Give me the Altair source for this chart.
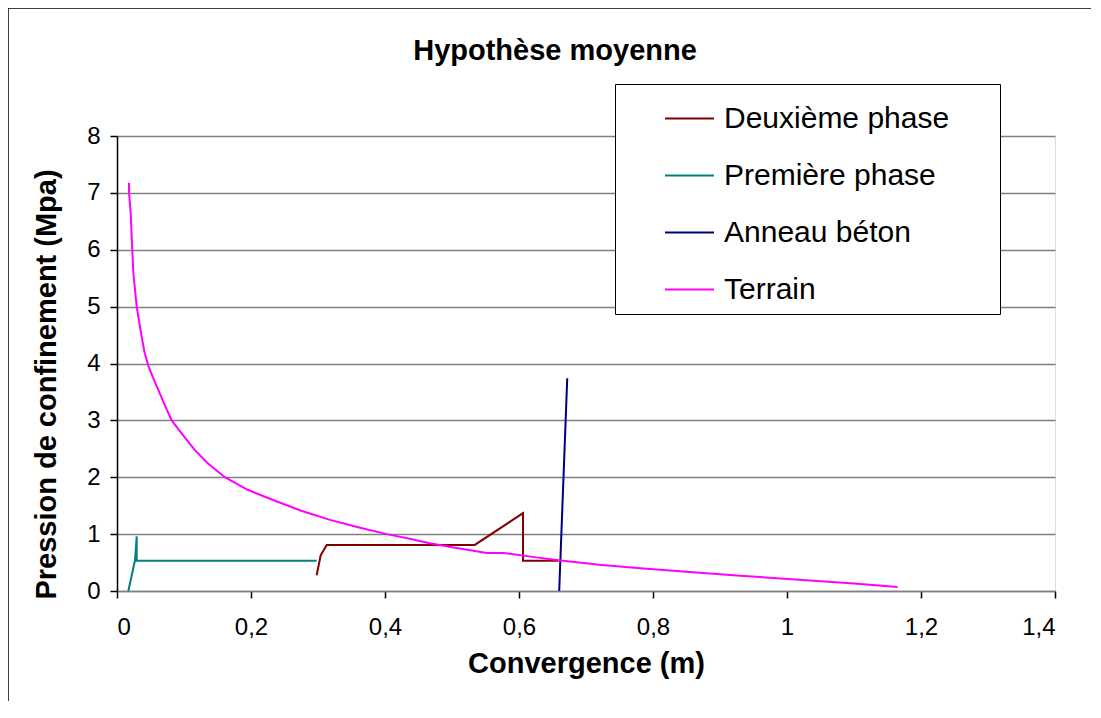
import altair as alt
import pandas as pd

# ---- data ----
series_names = ["Deuxième phase", "Première phase", "Anneau béton", "Terrain"]
series_colors = ["#800000", "#008080", "#000080", "#FF00FF"]

terrain_x = [0.0179, 0.018, 0.0204, 0.0228, 0.0244, 0.0294, 0.0368, 0.041, 0.047, 0.055,
             0.064, 0.072, 0.0816, 0.1, 0.116, 0.135, 0.161, 0.195, 0.233, 0.275,
             0.318, 0.36, 0.4025, 0.437, 0.467, 0.50, 0.552, 0.577, 0.62, 0.659,
             0.72, 0.781, 0.85, 0.93, 1.029, 1.10, 1.165]
terrain_y = [7.18, 7.0, 6.65, 6.0, 5.59, 5.0, 4.47, 4.2, 3.95, 3.72,
             3.47, 3.25, 3.0, 2.72, 2.48, 2.25, 2.0, 1.78, 1.60, 1.41,
             1.25, 1.12, 1.0, 0.92, 0.84, 0.77, 0.67, 0.67, 0.60, 0.54,
             0.46, 0.40, 0.34, 0.27, 0.19, 0.13, 0.07]

deux_x = [0.298, 0.304, 0.313, 0.534, 0.606, 0.606, 0.659]
deux_y = [0.276, 0.628, 0.81, 0.81, 1.37, 0.53, 0.53]

prem_x = [0.0169, 0.0269, 0.0294, 0.0294, 0.028, 0.298]
prem_y = [0.0, 0.54, 0.96, 0.53, 0.53, 0.53]

anneau_x = [0.66, 0.672]
anneau_y = [0.0, 3.74]

x_ticks = [0, 0.2, 0.4, 0.6, 0.8, 1, 1.2, 1.4]
y_ticks = [0, 1, 2, 3, 4, 5, 6, 7, 8]

rows = []
for name, xs, ys in [("Deuxième phase", deux_x, deux_y),
                     ("Première phase", prem_x, prem_y),
                     ("Anneau béton", anneau_x, anneau_y),
                     ("Terrain", terrain_x, terrain_y)]:
    for i, (xv, yv) in enumerate(zip(xs, ys)):
        rows.append({"series": name, "x": xv, "y": yv, "idx": i})
df = pd.DataFrame(rows)

W, H = 938, 455
PAD_L, PAD_T, PAD_R, PAD_B = 109, 128, 36, 110
# invisible padding so the legend box is as wide as in the reference
LEGEND_PAD = "\u00a0" * 5 + "\u200b"

x_enc = alt.X("x:Q",
              scale=alt.Scale(domain=[0, 1.4], nice=False, zero=False),
              axis=alt.Axis(values=x_ticks,
                            labelExpr="replace(toString(datum.value), '.', ',')",
                            title="Convergence (m)",
                            titleFont="Liberation Sans", titleFontSize=29, titleFontWeight="bold",
                            titleColor="#000", titleY=72, titleBaseline="middle",
                            labelFont="Liberation Sans", labelFontSize=24, labelColor="#000",
                            labelPadding=17, tickSize=7, tickColor="#000", tickWidth=1.5,
                            domainColor="#808080", domainWidth=1.5,
                            grid=False))
y_enc = alt.Y("y:Q",
              scale=alt.Scale(domain=[0, 8], nice=False, zero=False),
              axis=alt.Axis(values=y_ticks,
                            title="Pression de confinement (Mpa)",
                            titleFont="Liberation Sans", titleFontSize=29, titleFontWeight="bold",
                            titleColor="#000", titleX=-71, titleY=248, titleAngle=270,
                            titleAlign="center", titleBaseline="middle",
                            labelFont="Liberation Sans", labelFontSize=24, labelColor="#000",
                            labelPadding=10, tickSize=7, tickColor="#000", tickWidth=1.5,
                            domainColor="#000", domainWidth=1.5,
                            grid=True, gridColor="#808080", gridWidth=1.5))
color_enc = alt.Color("series:N",
                      scale=alt.Scale(domain=series_names, range=series_colors),
                      legend=alt.Legend(title=None, orient="none", legendX=498, legendY=-52,
                                        strokeColor="#000", fillColor="#ffffff",
                                        padding=9, symbolOffset=40,
                                        symbolType="stroke", symbolSize=2401,
                                        symbolStrokeWidth=2, labelFont="Liberation Sans",
                                        labelFontSize=30, labelColor="#000", labelOffset=9,
                                        labelExpr="datum.label + '" + LEGEND_PAD + "'",
                                        rowPadding=16, labelLimit=500))

base = alt.Chart(df).encode(x=x_enc, y=y_enc, color=color_enc, order=alt.Order("idx:Q"))

layers = []
for name in ["Première phase", "Deuxième phase", "Anneau béton", "Terrain"]:
    layers.append(base.transform_filter(alt.datum.series == name)
                  .mark_line(strokeWidth=2, clip=False))

frame_df = pd.DataFrame({"k": [0]})
frame_top = alt.Chart(frame_df).mark_rule(color="#000", strokeWidth=1.5).encode(
    x=alt.value(-PAD_L), x2=alt.value(W + PAD_R), y=alt.value(-PAD_T))
frame_left = alt.Chart(frame_df).mark_rule(color="#000", strokeWidth=1.5).encode(
    x=alt.value(-PAD_L), y=alt.value(-PAD_T), y2=alt.value(H + PAD_B))

chart = alt.layer(frame_top, frame_left, *layers).properties(
    width=W, height=H,
    autosize=alt.AutoSizeParams(type="none"),
    padding={"left": PAD_L, "top": PAD_T, "right": PAD_R, "bottom": PAD_B},
    title=alt.TitleParams("Hypothèse moyenne", font="Liberation Sans", fontSize=29,
                          fontWeight="bold", color="#000", anchor="middle",
                          frame="group", dx=-31, offset=-73, baseline="middle"),
).configure_view(stroke=None).configure(background="#ffffff")

chart.save("out.html", embed_options={"renderer": "svg", "actions": False})
